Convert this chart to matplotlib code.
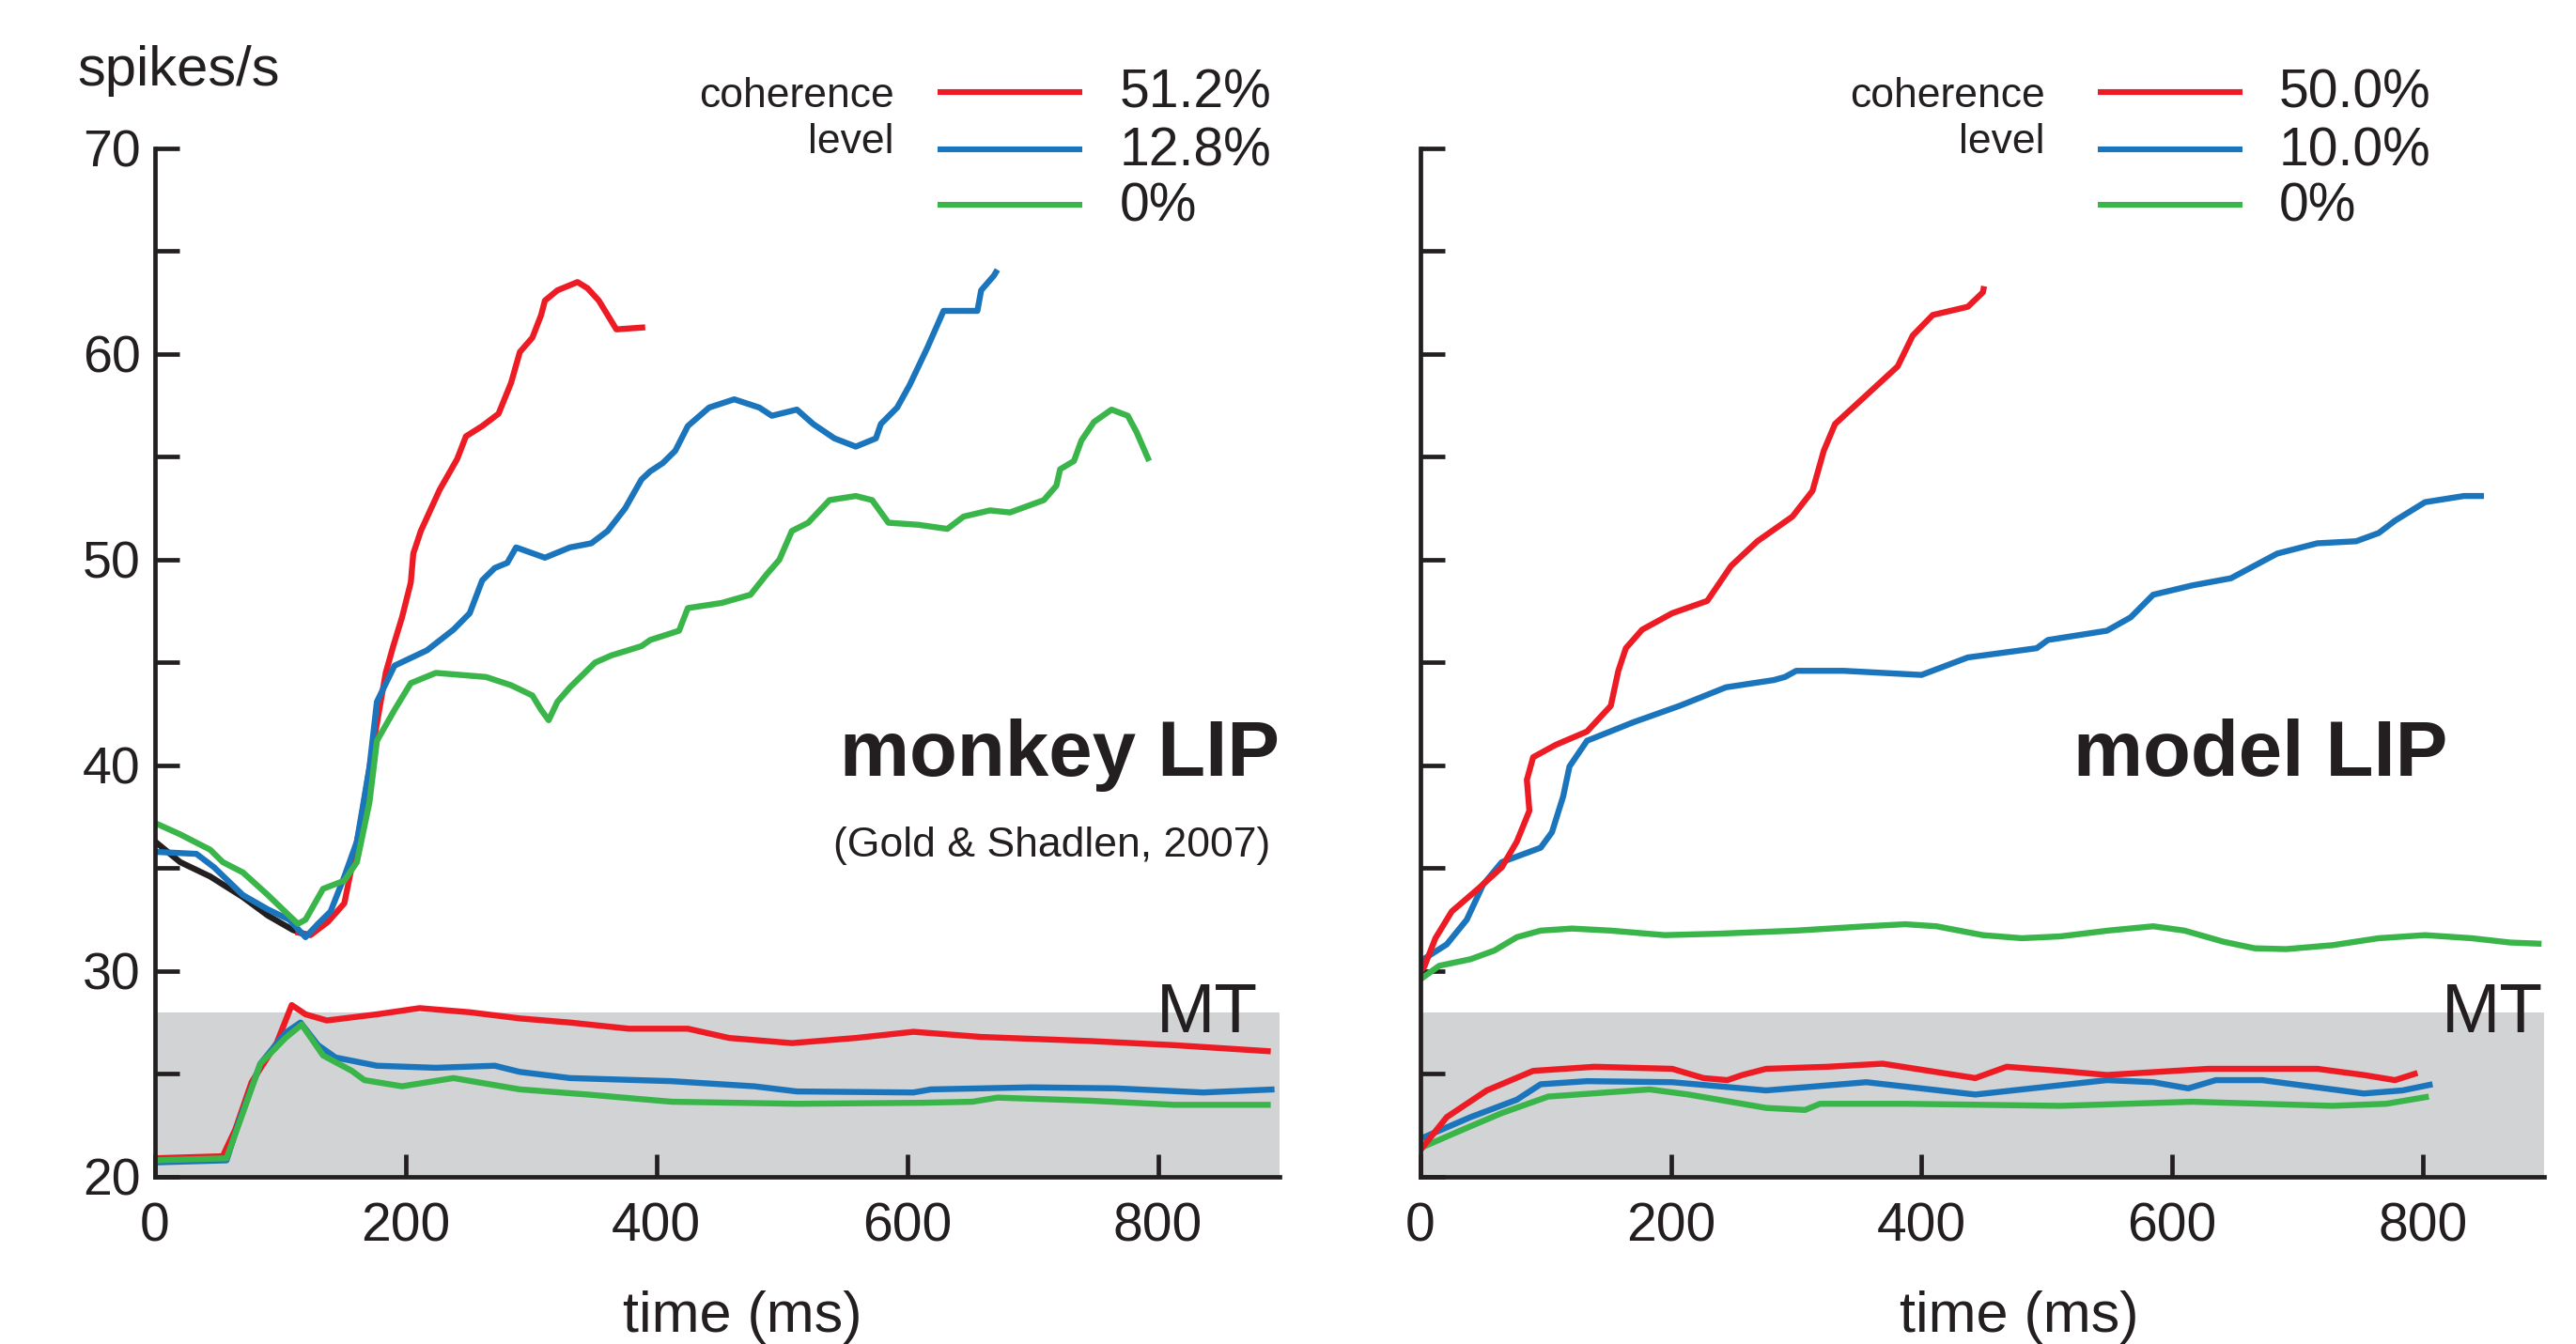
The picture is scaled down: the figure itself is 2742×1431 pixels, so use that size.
import matplotlib
matplotlib.use('Agg')
import matplotlib.pyplot as plt
from matplotlib.ticker import MultipleLocator

plt.rcParams['font.family'] = ['Liberation Sans', 'DejaVu Sans']

RED = '#ED1C24'
BLUE = '#1B75BC'
GREEN = '#39B54A'
GRAY = '#D1D3D4'

# ---- monkey LIP (left) ----
pre_t = [0, 20, 44, 70, 90, 110, 122]
pre_y = [36.3, 35.3, 34.6, 33.6, 32.7, 32.0, 31.75]

lip_red_t = [112, 124, 138, 151, 164, 174, 184, 190, 197, 204, 206, 212, 227, 241, 248, 261,
             274, 284, 291, 301, 308, 311, 321, 337, 345, 354, 368, 391]
lip_red_y = [31.9, 31.75, 32.4, 33.3, 37.2, 41.0, 44.5, 45.8, 47.2, 48.9, 50.3, 51.4, 53.4, 54.9, 56.0, 56.5,
             57.1, 58.6, 60.1, 60.8, 61.9, 62.6, 63.1, 63.5, 63.2, 62.6, 61.2, 61.3]

lip_blue_t = [0, 33, 47, 70, 90, 107, 120, 130, 140, 151, 161, 171, 177, 191, 217, 238, 251, 261,
              271, 281, 288, 311, 331, 348, 361, 375, 388, 395, 405, 415, 425, 442, 462, 482,
              492, 512, 525, 542, 559, 575, 579, 592, 602, 616, 629, 656, 659, 669, 672]
lip_blue_y = [35.8, 35.7, 35.05, 33.7, 33.0, 32.5, 31.65, 32.3, 32.9, 34.6, 36.3, 39.9, 43.1, 44.85, 45.6, 46.6, 47.4, 49.0,
              49.6, 49.85, 50.6, 50.1, 50.6, 50.8, 51.4, 52.5, 53.9, 54.3, 54.7, 55.3, 56.5, 57.4, 57.8, 57.4,
              57.0, 57.3, 56.6, 55.9, 55.5, 55.9, 56.6, 57.4, 58.5, 60.3, 62.1, 62.1, 63.1, 63.8, 64.1]

lip_green_t = [0, 20, 44, 54, 70, 90, 107, 114, 120, 134, 151, 161, 171, 177, 191, 204, 224, 264,
               284, 301, 308, 314, 321, 331, 351, 364, 388, 395, 418, 425, 452, 475, 488, 498,
               508, 521, 538, 559, 572, 585, 609, 632, 645, 666, 682, 709, 719, 722, 733, 739,
               749, 763, 776, 783, 793]
lip_green_y = [37.2, 36.65, 35.9, 35.3, 34.8, 33.7, 32.7, 32.3, 32.5, 34.0, 34.4, 35.3, 38.2, 41.2, 42.7, 44.0, 44.5, 44.3,
               43.9, 43.4, 42.7, 42.2, 43.1, 43.8, 45.0, 45.35, 45.8, 46.1, 46.55, 47.65, 47.9, 48.3, 49.3, 50.0,
               51.4, 51.8, 52.9, 53.1, 52.9, 51.8, 51.7, 51.5, 52.1, 52.4, 52.3, 52.9, 53.6, 54.4, 54.8, 55.8,
               56.7, 57.3, 57.0, 56.2, 54.8]

mt_red_t = [0, 54, 64, 77, 97, 109, 120, 137, 177, 211, 251, 291, 331, 378, 425, 458, 508, 559, 605, 659, 746, 813, 890]
mt_red_y = [20.9, 21.0, 22.3, 24.6, 26.5, 28.35, 27.9, 27.6, 27.9, 28.2, 28.0, 27.7, 27.5, 27.2, 27.2, 26.75,
            26.5, 26.75, 27.05, 26.8, 26.6, 26.4, 26.1]

mt_blue_t = [0, 57, 67, 84, 104, 116, 130, 144, 177, 224, 271, 291, 331, 412, 478, 512, 605, 619, 699, 766, 836, 893]
mt_blue_y = [20.7, 20.8, 22.7, 25.5, 27.0, 27.5, 26.4, 25.8, 25.4, 25.3, 25.4, 25.1, 24.8, 24.65, 24.4, 24.15,
             24.1, 24.25, 24.35, 24.3, 24.1, 24.25]

mt_green_t = [0, 57, 70, 84, 104, 117, 134, 157, 167, 197, 238, 291, 345, 412, 512, 612, 652, 672, 746, 813, 890]
mt_green_y = [20.8, 20.9, 23.1, 25.5, 26.75, 27.4, 25.9, 25.15, 24.7, 24.4, 24.8, 24.25, 24.0, 23.65, 23.55,
              23.6, 23.65, 23.85, 23.7, 23.5, 23.5]

# ---- model LIP (right) ----
mod_red_t = [0, 3, 12, 25, 46, 65, 77, 87, 85, 90, 108, 133, 152, 158, 164, 177, 201, 229, 248, 269, 297,
             313, 322, 331, 356, 381, 393, 409, 437, 449, 450]
mod_red_y = [30.0, 30.2, 31.6, 32.9, 34.0, 35.05, 36.3, 37.8, 39.3, 40.4, 41.0, 41.65, 42.9, 44.6, 45.7, 46.6,
             47.4, 48.0, 49.7, 50.9, 52.1, 53.35, 55.3, 56.6, 58.0, 59.4, 60.9, 61.9, 62.3, 63.0, 63.3]

mod_blue_t = [0, 3, 21, 37, 50, 65, 96, 105, 114, 119, 133, 170, 207, 244, 282, 291, 300, 338, 400, 437,
              492, 501, 548, 567, 585, 616, 647, 684, 716, 747, 765, 778, 802, 833, 849]
mod_blue_y = [30.4, 30.6, 31.3, 32.5, 34.2, 35.3, 36.0, 36.75, 38.5, 39.95, 41.2, 42.1, 42.9, 43.8, 44.15, 44.3,
              44.6, 44.6, 44.4, 45.25, 45.7, 46.1, 46.55, 47.2, 48.3, 48.75, 49.1, 50.3, 50.8, 50.9, 51.3,
              51.9, 52.8, 53.1, 53.1]

mod_green_t = [0, 15, 40, 59, 77, 96, 121, 152, 195, 238, 300, 356, 387, 412, 449, 480, 511, 549, 585,
               610, 641, 666, 691, 728, 765, 802, 839, 870, 895]
mod_green_y = [29.6, 30.26, 30.58, 31.0, 31.65, 31.97, 32.07, 31.97, 31.75, 31.82, 31.97, 32.18, 32.28, 32.18,
               31.75, 31.6, 31.69, 31.97, 32.18, 31.97, 31.43, 31.11, 31.07, 31.26, 31.6, 31.75, 31.6, 31.39, 31.33]

mmt_red_t = [0, 21, 53, 90, 139, 201, 226, 245, 257, 276, 325, 369, 406, 443, 468, 511, 548, 629, 716, 753, 778, 796]
mmt_red_y = [21.3, 22.9, 24.2, 25.15, 25.35, 25.25, 24.8, 24.7, 24.95, 25.25, 25.35, 25.5, 25.15, 24.8, 25.35,
             25.15, 24.95, 25.25, 25.25, 24.95, 24.7, 25.05]

mmt_blue_t = [0, 40, 77, 96, 133, 201, 276, 356, 443, 548, 585, 613, 635, 672, 753, 784, 808]
mmt_blue_y = [21.85, 22.9, 23.75, 24.5, 24.65, 24.6, 24.2, 24.6, 24.0, 24.7, 24.6, 24.3, 24.7, 24.7, 24.05, 24.2, 24.5]

mmt_green_t = [0, 34, 65, 102, 183, 214, 276, 307, 319, 387, 511, 616, 728, 771, 805]
mmt_green_y = [21.4, 22.3, 23.1, 23.9, 24.25, 24.0, 23.35, 23.25, 23.55, 23.55, 23.45, 23.65, 23.45, 23.55, 23.9]

xticks = [0, 200, 400, 600, 800]
left_levels = ['51.2%', '12.8%', '0%']
right_levels = ['50.0%', '10.0%', '0%']
colors = [RED, BLUE, GREEN]

LW = 4.6
TXT = '#231F20'
fig = plt.figure(figsize=(27.42, 14.31), dpi=100)
ax1 = fig.add_axes([0.0602, 0.1244, 0.4365, 0.7652])
ax2 = fig.add_axes([0.5514, 0.1244, 0.4362, 0.7652])


def style(ax, show_labels):
    ax.set_xlim(0, 897)
    ax.set_ylim(20, 70)
    ax.axhspan(20, 28, color=GRAY, zorder=0, lw=0)
    for s in ['top', 'right']:
        ax.spines[s].set_visible(False)
    for s in ['left', 'bottom']:
        ax.spines[s].set_linewidth(3.4)
        ax.spines[s].set_capstyle('projecting')
        ax.spines[s].set_color(TXT)
    ax.set_xticks(xticks)
    ax.yaxis.set_major_locator(MultipleLocator(10))
    ax.yaxis.set_minor_locator(MultipleLocator(5))
    ax.tick_params(axis='y', which='both', direction='in', length=19, width=3.4,
                   color=TXT, labelsize=40, pad=11, labelleft=show_labels)
    ax.tick_params(axis='x', which='both', direction='in', length=17, width=3.4,
                   color=TXT, labelsize=41, pad=19)
    for lab in ax.get_xticklabels() + ax.get_yticklabels():
        lab.set_color(TXT)


style(ax1, True)
style(ax2, False)


def curve(ax, t, y, c):
    ax.plot(t, y, color=c, lw=LW, solid_joinstyle='round', solid_capstyle='butt')


# left panel curves
curve(ax1, pre_t, pre_y, TXT)
curve(ax1, lip_red_t, lip_red_y, RED)
curve(ax1, lip_blue_t, lip_blue_y, BLUE)
curve(ax1, lip_green_t, lip_green_y, GREEN)
curve(ax1, mt_red_t, mt_red_y, RED)
curve(ax1, mt_blue_t, mt_blue_y, BLUE)
curve(ax1, mt_green_t, mt_green_y, GREEN)

# right panel curves
curve(ax2, mod_green_t, mod_green_y, GREEN)
curve(ax2, mod_blue_t, mod_blue_y, BLUE)
curve(ax2, mod_red_t, mod_red_y, RED)
curve(ax2, mmt_green_t, mmt_green_y, GREEN)
curve(ax2, mmt_blue_t, mmt_blue_y, BLUE)
curve(ax2, mmt_red_t, mmt_red_y, RED)


def legend(ax, levels, x_word, x0, x1, x_lab):
    ax.text(x_word, 1.040, 'coherence', transform=ax.transAxes, ha='right', va='baseline',
            fontsize=32, color=TXT)
    ax.text(x_word, 0.9954, 'level', transform=ax.transAxes, ha='right', va='baseline',
            fontsize=32, color=TXT)
    for lev, c, yy in zip(levels, colors, [1.055, 0.999, 0.945]):
        ax.plot([x0, x1], [yy, yy], transform=ax.transAxes, color=c, lw=4.4,
                clip_on=False, solid_capstyle='butt')
        ax.text(x_lab, yy - 0.002, lev, transform=ax.transAxes, ha='left', va='center',
                fontsize=41, color=TXT)


legend(ax1, left_levels, 0.657, 0.696, 0.825, 0.858)
legend(ax2, right_levels, 0.556, 0.603, 0.732, 0.764)

ax1.text(-0.069, 1.061, 'spikes/s', transform=ax1.transAxes, ha='left', va='baseline',
         fontsize=43, color=TXT)

ax1.text(1.0, 0.39, 'monkey LIP', transform=ax1.transAxes, ha='right', va='baseline',
         fontsize=60, fontweight='bold', color=TXT)
ax1.text(0.992, 0.311, '(Gold & Shadlen, 2007)', transform=ax1.transAxes, ha='right',
         va='baseline', fontsize=32, color=TXT)
ax2.text(0.914, 0.39, 'model LIP', transform=ax2.transAxes, ha='right', va='baseline',
         fontsize=60, fontweight='bold', color=TXT)

ax1.text(0.981, 0.141, 'MT', transform=ax1.transAxes, ha='right', va='baseline',
         fontsize=54, color=TXT)
ax2.text(0.999, 0.141, 'MT', transform=ax2.transAxes, ha='right', va='baseline',
         fontsize=54, color=TXT)

ax1.text(0.522, -0.151, 'time (ms)', transform=ax1.transAxes, ha='center', va='baseline',
         fontsize=44, color=TXT)
ax2.text(0.533, -0.151, 'time (ms)', transform=ax2.transAxes, ha='center', va='baseline',
         fontsize=44, color=TXT)

fig.savefig('out.png', dpi=100)
